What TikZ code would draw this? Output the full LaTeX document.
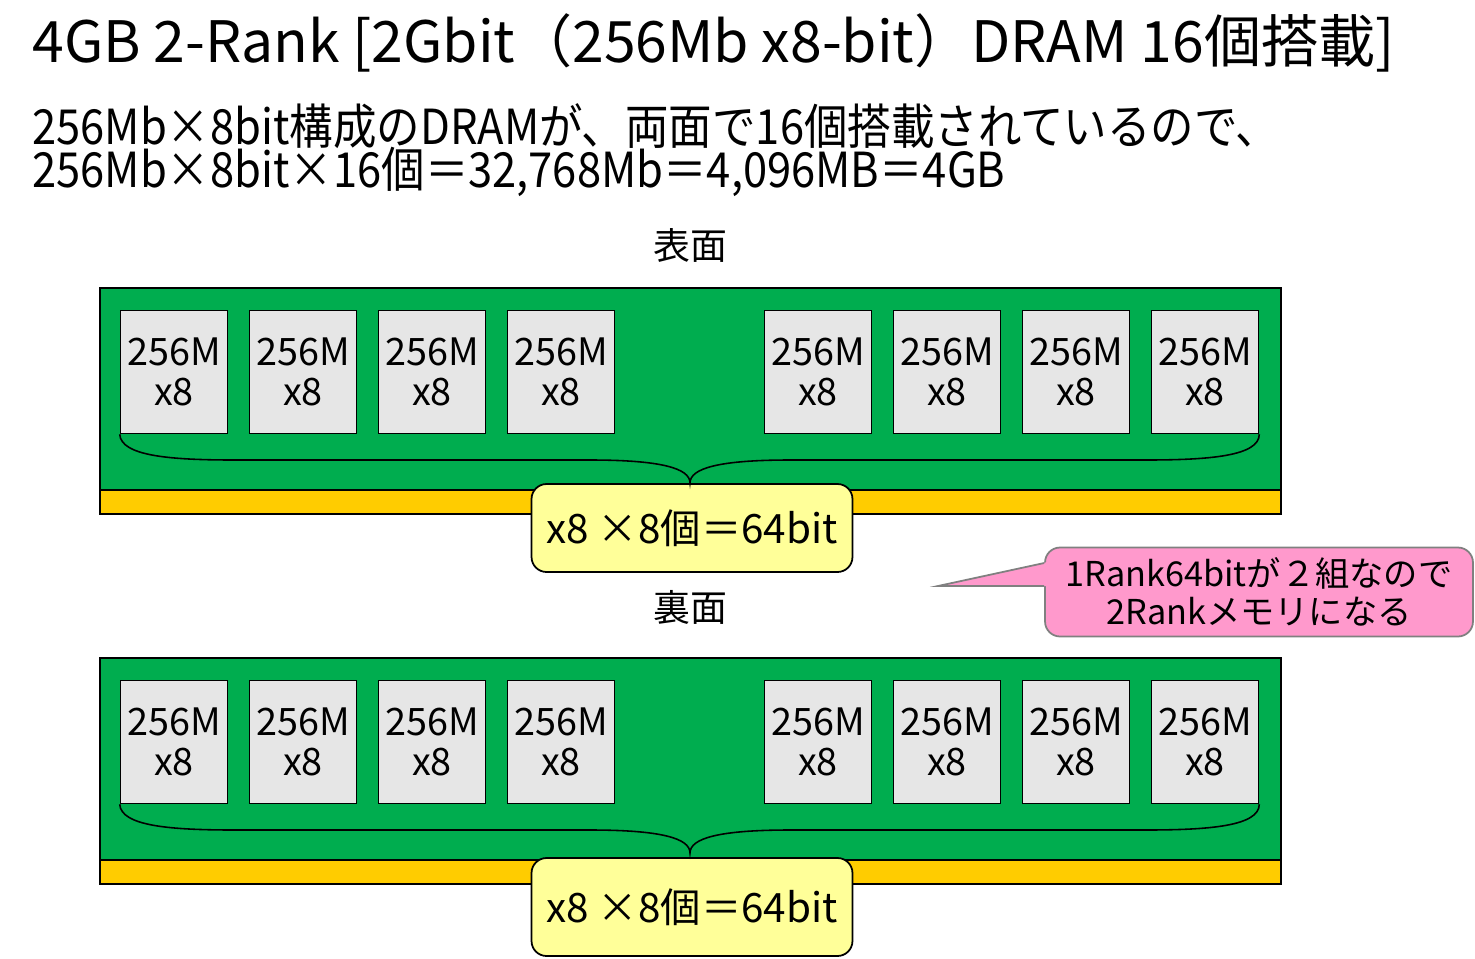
\documentclass[tikz,border=0pt]{standalone}
\usepackage{fontspec}
\setmainfont{Noto Sans CJK JP}
\newfontfamily\narrowfont{Noto Sans CJK JP}[FakeStretch=0.9]
\usetikzlibrary{positioning}
\definecolor{pcbgreen}{HTML}{00AD4F}
\definecolor{padyellow}{HTML}{FFCC00}
\definecolor{chipgray}{HTML}{E6E6E6}
\definecolor{sumfill}{HTML}{FFFF99}
\definecolor{notepink}{HTML}{FF99CC}

\begin{document}
\begin{tikzpicture}[x=0.02cm,y=-0.02cm,
  board/.style={draw,line width=1pt,fill=pcbgreen},
  pads/.style={draw,line width=1pt,fill=padyellow},
  chip/.style={draw,line width=0.9pt,fill=chipgray,minimum width=2.14cm,minimum height=2.46cm,
    inner sep=0pt,align=center,font=\fontsize{21.5}{23}\selectfont},
  brace/.style={draw,line width=0.9pt},
  sumbox/.style={draw,line width=1pt,fill=sumfill,rounded corners=0.3cm,minimum width=6.42cm,
    inner sep=0pt,font=\fontsize{23}{30}\selectfont},
  callout/.style={draw=gray,line width=1pt,fill=notepink,rounded corners=0.3cm,minimum width=8.56cm,
    minimum height=1.78cm,inner sep=0pt,align=center,font=\fontsize{19.5}{22}\selectfont}]
  \useasboundingbox (0,0) rectangle (1475,958);

  % heading
  \node[anchor=base west,inner sep=0pt,font=\fontsize{32.5}{35}\selectfont] (title) at (32,62)
    {4GB 2-Rank [2Gbit（256Mb x8-bit）DRAM 16個搭載]};
  \node[anchor=base west,inner sep=0pt,font=\narrowfont\fontsize{27.5}{30}\selectfont] (note1) at (32,144)
    {256Mb×8bit構成のDRAMが、両面で16個搭載されているので、};
  \node[anchor=base west,inner sep=0pt,font=\narrowfont\fontsize{27.5}{30}\selectfont] (note2) at (32,187)
    {256Mb×8bit×16個＝32,768Mb＝4,096MB＝4GB};

  % front and back of the module
  \foreach \b/\yo/\side/\sy/\ly/\lh in {1/0/表面/245/528/1.76cm, 2/370/裏面/607/907/1.96cm} {
    \draw[board] (100,{288+\yo}) rectangle (1281,{490+\yo});
    \draw[pads] (100,{490+\yo}) rectangle (1281,{514+\yo});
    \node[font=\fontsize{21}{24}\selectfont] (side\b) at (690,\sy) {\side};
    \foreach \i/\cx in {1/174,2/303,3/432,4/561,5/818,6/947,7/1076,8/1205}
      \node[chip] (c\b-\i) at (\cx,{372+\yo}) {256M\\x8};
    \node[sumbox,minimum height=\lh] (sum\b) at (692,\ly) {x8 ×8個＝64bit};
    \coordinate (tip\b) at (690,{483+\yo});
    \draw[brace] (c\b-1.south west) .. controls (121,{456+\yo}) and (170,{460+\yo}) .. (235,{460+\yo})
      -- (590,{460+\yo}) .. controls (660,{460+\yo}) and (690,{468+\yo}) .. (tip\b)
      .. controls (690,{468+\yo}) and (720,{460+\yo}) .. (790,{460+\yo})
      -- (1145,{460+\yo}) .. controls (1210,{460+\yo}) and (1259,{456+\yo}) .. (c\b-8.south east);
  }

  % callout
  \node[callout] (rankNote) at (1259,592) {1Rank64bitが２組なので\\2Rankメモリになる};
  \coordinate (ptip) at (938,586);
  \fill[notepink] ([xshift=2pt,yshift=0.6cm]rankNote.west) -- (ptip) -- ([xshift=2pt,yshift=0.12cm]rankNote.west) -- cycle;
  \draw[gray,line width=1pt] ([yshift=0.58cm]rankNote.west) -- (ptip) -- ([yshift=0.12cm]rankNote.west);
\end{tikzpicture}
\end{document}
